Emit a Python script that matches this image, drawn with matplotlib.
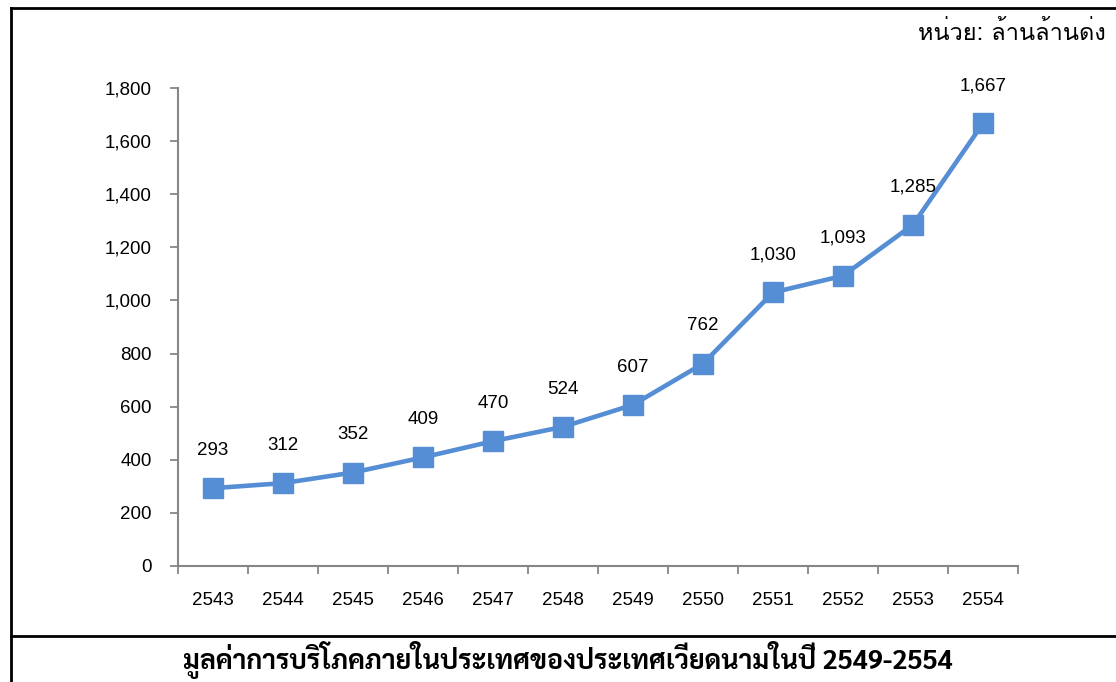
import matplotlib
matplotlib.use("Agg")
import matplotlib.pyplot as plt
from matplotlib.lines import Line2D

# Domestic consumption in Vietnam, trillion dong, by Buddhist-era year
years = ["2543", "2544", "2545", "2546", "2547", "2548",
         "2549", "2550", "2551", "2552", "2553", "2554"]
values = [293, 312, 352, 409, 470, 524, 607, 762, 1030, 1093, 1285, 1667]
y_ticks = [0, 200, 400, 600, 800, 1000, 1200, 1400, 1600, 1800]

unit_text = "หน่วย: ล้านล้านด่ง"
caption = "มูลค่าการบริโภคภายในประเทศของประเทศเวียดนามในปี 2549-2554"

LINE_BLUE = "#558ED5"
AXIS_GRAY = "#868686"
LATIN = "Liberation Sans"
FS = 13.5

fig = plt.figure(figsize=(11.16, 6.82), dpi=100)
ax = fig.add_axes([178 / 1116, 1 - 566 / 682, 840 / 1116, (566 - 88) / 682])

x = list(range(len(years)))
ax.plot(x, values, color=LINE_BLUE, lw=3.3, marker="s", ms=14,
        mfc=LINE_BLUE, mec=LINE_BLUE, zorder=3, clip_on=False)
for xi, v in zip(x, values):
    ax.annotate(f"{v:,}", (xi, v), xytext=(0, 21), textcoords="offset points",
                ha="center", va="bottom", fontsize=FS, family=LATIN)

ax.set_xlim(-0.5, len(years) - 0.5)
ax.set_ylim(0, 1800)
ax.set_yticks(y_ticks)
ax.set_yticklabels([f"{t:,}" for t in y_ticks], family=LATIN, fontsize=FS)
ax.set_xticks([i - 0.5 for i in range(len(years) + 1)], minor=False)
ax.set_xticklabels([])
ax.set_xticks(x, minor=True)
ax.set_xticklabels(years, minor=True, family=LATIN, fontsize=FS)
ax.tick_params(axis="x", which="major", length=6, width=1.3, color=AXIS_GRAY, direction="out")
ax.tick_params(axis="x", which="minor", length=0, pad=19)
ax.tick_params(axis="y", length=6, width=1.3, color=AXIS_GRAY, pad=13)

for side in ("top", "right"):
    ax.spines[side].set_visible(False)
for side in ("left", "bottom"):
    ax.spines[side].set_color(AXIS_GRAY)
    ax.spines[side].set_linewidth(1.5)

# Outer frame and caption divider
frame_kw = dict(color="black", lw=2, transform=fig.transFigure)
fig.add_artist(Line2D([11 / 1116, 11 / 1116], [0, 1 - 8 / 682], **frame_kw))
fig.add_artist(Line2D([11 / 1116, 1], [1 - 8 / 682, 1 - 8 / 682], **frame_kw))
fig.add_artist(Line2D([11 / 1116, 1], [1 - 636 / 682, 1 - 636 / 682], **frame_kw))

fig.text(1106 / 1116, 1 - 33 / 682, unit_text, ha="right", va="center",
         fontsize=17, family=["Loma", "DejaVu Sans"])
fig.text(568 / 1116, 1 - 660 / 682, caption, ha="center", va="center",
         fontsize=19.3, fontweight="bold", family=["Sarabun", "Liberation Sans"])

fig.savefig("out.png")
